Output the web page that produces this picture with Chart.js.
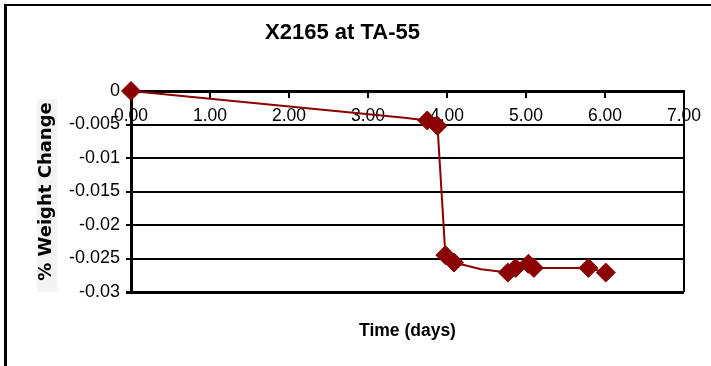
<!DOCTYPE html>
<html>
<head>
<meta charset="utf-8">
<script src="https://cdn.jsdelivr.net/npm/chart.js@4/dist/chart.umd.min.js"></script>
<style>
  html, body { margin: 0; padding: 0; background: #fff; overflow: hidden; }
  #wrap { position: relative; width: 711px; height: 366px; }
  #frame { position: absolute; left: 4px; top: 4px; width: 720px; height: 380px;
           border-left: 3px solid #000; border-top: 2px solid #000; pointer-events: none; }
  canvas { position: absolute; left: 0; top: 0; }
</style>
</head>
<body>
<div id="wrap">
  <canvas id="c" width="711" height="366"></canvas>
  <div id="frame"></div>
</div>
<script>
// ---- data ----
const chartTitle = 'X2165 at TA-55';
const xTitle = 'Time (days)';
const yTitle = '% Weight Change';
const timeDays = [0, 3.46, 3.75, 3.88, 3.98, 4.09, 4.43, 4.77, 4.87, 5.03, 5.10, 5.79, 6.01];
const weightChange = [0, -0.0040, -0.0044, -0.0052, -0.0245, -0.0256, -0.0266, -0.0271, -0.0264, -0.0258, -0.0264, -0.0264, -0.0271];
const unmarkedPoints = [1, 6];   // line bends without a marker
const xTickLabels = ['0.00', '1.00', '2.00', '3.00', '4.00', '5.00', '6.00', '7.00'];
const yTickLabels = ['0', '-0.005', '-0.01', '-0.015', '-0.02', '-0.025', '-0.03'];

const series = timeDays.map((t, i) => ({ x: t, y: weightChange[i] }));
const darkRed = '#8B0000';

const yTitleBg = {
  id: 'yTitleBg',
  beforeDraw(chart) {
    const c = chart.ctx;
    c.save();
    c.fillStyle = '#f3f3f3';
    c.fillRect(37, 99, 20, 193);
    c.restore();
  }
};

new Chart(document.getElementById('c'), {
  type: 'scatter',
  data: {
    datasets: [{
      data: series,
      showLine: true,
      borderColor: darkRed,
      borderWidth: 2,
      backgroundColor: darkRed,
      pointStyle: 'rectRot',
      pointRadius: ctx => unmarkedPoints.includes(ctx.dataIndex) ? 0 : 9.5,
      pointBorderColor: darkRed,
      pointBackgroundColor: darkRed,
      pointBorderWidth: 1,
      tension: 0,
      clip: false
    }]
  },
  plugins: [yTitleBg],
  options: {
    responsive: false,
    animation: false,
    events: [],
    layout: { padding: { left: 0, right: 26, top: 0, bottom: 0 } },
    plugins: {
      legend: { display: false },
      tooltip: { enabled: false },
      title: {
        display: true,
        text: chartTitle,
        color: '#000',
        font: { family: 'Liberation Sans, Arial, sans-serif', size: 22, weight: 'bold' },
        padding: { top: 20, bottom: 44.6 }
      }
    },
    scales: {
      x: {
        type: 'linear',
        position: { y: 0 },
        min: 0, max: 7,
        ticks: {
          stepSize: 1,
          autoSkip: false,
          maxRotation: 0,
          padding: 10,
          color: '#000',
          font: { family: 'Liberation Sans, Arial, sans-serif', size: 17.5 },
          callback: (v) => xTickLabels[Math.round(v)]
        },
        grid: {
          drawOnChartArea: true,
          color: ctx => (ctx.tick && ctx.tick.value === 7) ? '#000' : 'rgba(0,0,0,0)',
          lineWidth: 2,
          tickColor: '#000',
          tickLength: 5,
          tickWidth: 2
        },
        border: { display: true, color: '#000', width: 3 }
      },
      x2: {
        type: 'linear',
        position: 'bottom',
        min: 0, max: 7,
        ticks: { display: false },
        grid: { display: false },
        border: { display: false },
        title: {
          display: true,
          text: xTitle,
          color: '#000',
          font: { family: 'Liberation Sans, Arial, sans-serif', size: 17.5, weight: 'bold' },
          padding: { top: 20.5, bottom: 24.5 }
        }
      },
      y: {
        type: 'linear',
        position: 'left',
        min: -0.03, max: 0,
        afterFit: (s) => { s.width = 131; },
        ticks: {
          stepSize: 0.005,
          padding: 6,
          color: '#000',
          font: { family: 'Liberation Sans, Arial, sans-serif', size: 18 },
          callback: (v) => yTickLabels[Math.round(-v / 0.005)]
        },
        grid: {
          color: '#000',
          lineWidth: ctx => (ctx.tick && Math.abs(ctx.tick.value + 0.03) < 1e-9) ? 3 : 2,
          tickColor: '#000',
          tickLength: 5
        },
        border: { display: true, color: '#000', width: 3 },
        title: {
          display: true,
          text: yTitle,
          color: '#000',
          font: { family: 'DejaVu Sans, sans-serif', size: 18, weight: 'bold' },
          padding: { top: 36, bottom: 0 }
        }
      }
    }
  }
});
</script>
</body>
</html>
